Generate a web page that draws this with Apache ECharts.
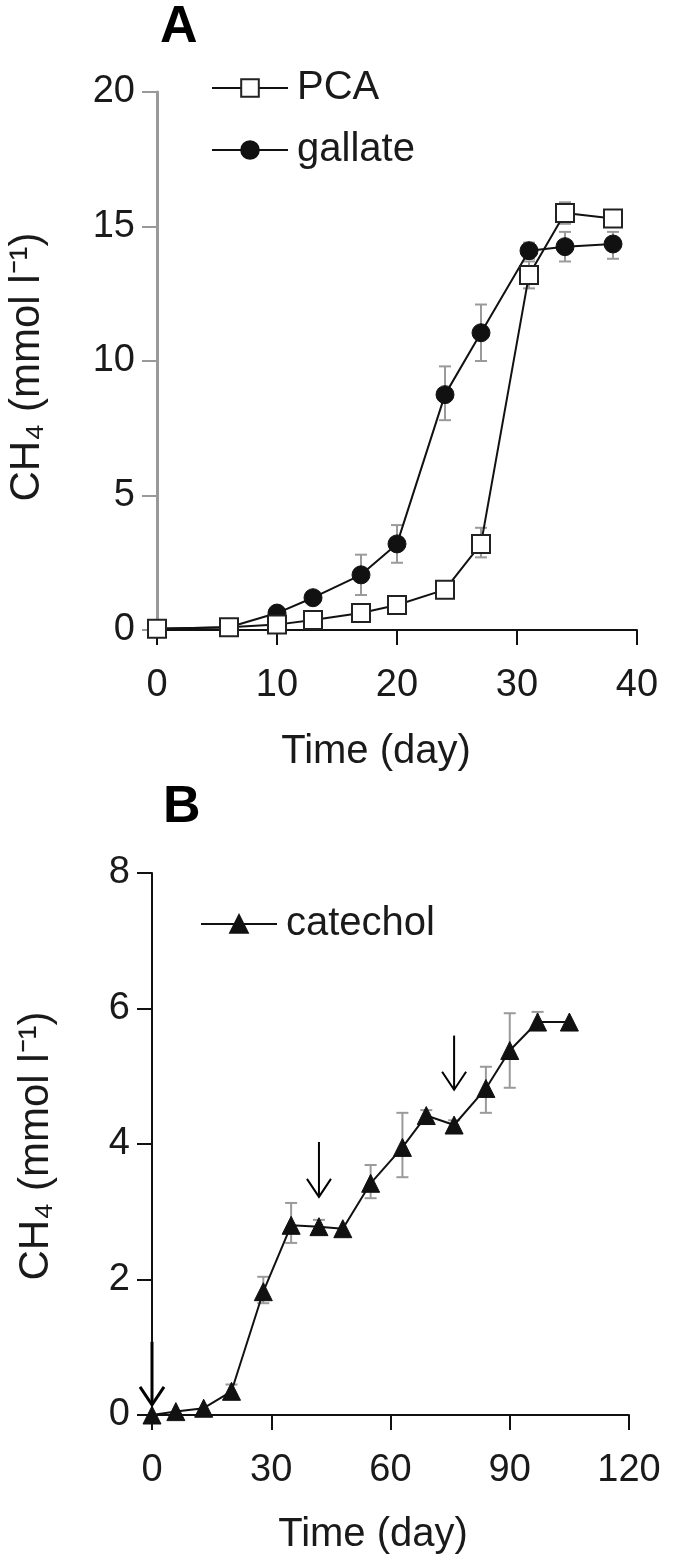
<!DOCTYPE html>
<html><head><meta charset="utf-8">
<script src="https://cdn.jsdelivr.net/npm/echarts@6/dist/echarts.min.js"></script>
<style>html,body{margin:0;padding:0;background:#fff}#c{width:675px;height:1558px}</style>
</head><body><div id="c"></div>
<script>
// Panel A data
const daysA = [0, 6, 10, 13, 17, 20, 24, 27, 31, 34, 38];
const pcaVals = [0.05, 0.1, 0.2, 0.37, 0.63, 0.93, 1.5, 3.2, 13.2, 15.5, 15.3];
const pcaLow  = [null, 0.05, null, null, null, null, null, 2.7, 12.7, 15.1, 15.0];
const pcaHigh = [null, 0.3, null, null, null, null, null, 3.8, 13.7, 15.9, 15.6];
const gallateVals = [0.05, 0.1, 0.63, 1.2, 2.05, 3.2, 8.75, 11.05, 14.1, 14.25, 14.35];
const gallateLow  = [null, null, 0.5, null, 1.3, 2.5, 7.8, 10.0, 13.8, 13.7, 13.8];
const gallateHigh = [null, null, 0.8, null, 2.8, 3.9, 9.8, 12.1, 14.4, 14.8, 14.8];
// Panel B data
const daysB = [0, 6, 13, 20, 28, 35, 42, 48, 55, 63, 69, 76, 84, 90, 97, 105];
const catecholVals = [0, 0.05, 0.1, 0.35, 1.82, 2.8, 2.78, 2.75, 3.42, 3.95, 4.42, 4.28, 4.82, 5.38, 5.8, 5.8];
const catecholLow  = [null, null, null, 0.3, 1.65, 2.54, 2.7, null, 3.2, 3.51, 4.35, 4.2, 4.46, 4.83, 5.7, null];
const catecholHigh = [null, null, null, 0.45, 2.04, 3.13, 2.88, null, 3.69, 4.46, 4.5, 4.35, 5.14, 5.93, 5.95, null];
// Arrows (substrate additions) in panel B
const arrowDays = [0, 42, 76];
const arrowTop = [1.08, 4.03, 5.6];
const arrowBottom = [0.15, 3.22, 4.8];
// Tick labels
const xTicksA = [0, 10, 20, 30, 40];
const yTicksA = [0, 5, 10, 15, 20];
const xTicksB = [0, 30, 60, 90, 120];
const yTicksB = [0, 2, 4, 6, 8];

const FONT = "'Liberation Sans', Arial, sans-serif";
const TXT = '#1a1a1a';

function pairs(xs, ys) { return xs.map((x, i) => [x, ys[i]]); }
function errData(xs, lo, hi) {
  const out = [];
  xs.forEach((x, i) => { if (lo[i] != null && hi[i] != null) out.push([x, lo[i], hi[i]]); });
  return out;
}
function errSeries(name, xi, yi, data) {
  return {
    type: 'custom', name: name, xAxisIndex: xi, yAxisIndex: yi, z: 1, silent: true,
    data: data,
    renderItem: function (params, api) {
      const x = api.value(0);
      const p1 = api.coord([x, api.value(1)]);
      const p2 = api.coord([x, api.value(2)]);
      const w = 6;
      const st = { stroke: '#9a9a9a', lineWidth: 2 };
      return { type: 'group', children: [
        { type: 'line', shape: { x1: p1[0], y1: p1[1], x2: p2[0], y2: p2[1] }, style: st },
        { type: 'line', shape: { x1: p1[0] - w, y1: p1[1], x2: p1[0] + w, y2: p1[1] }, style: st },
        { type: 'line', shape: { x1: p2[0] - w, y1: p2[1], x2: p2[0] + w, y2: p2[1] }, style: st }
      ]};
    }
  };
}

const arrowData = arrowDays.map((d, i) => [d, arrowTop[i], arrowBottom[i]]);

function axisX(gi, max, interval, ticks) {
  return {
    type: 'value', gridIndex: gi, min: 0, max: max, interval: interval,
    axisLine: { show: true, onZero: false, lineStyle: { color: '#111', width: 2 } },
    axisTick: { show: true, inside: false, length: 15, lineStyle: { color: '#111', width: 2 } },
    axisLabel: { color: TXT, fontSize: 38, fontFamily: FONT, margin: 37,
      formatter: v => (ticks.indexOf(v) >= 0 ? String(v) : '') },
    splitLine: { show: false }
  };
}
function axisY(gi, max, interval, color, width, ticks) {
  return {
    type: 'value', gridIndex: gi, min: 0, max: max, interval: interval,
    axisLine: { show: true, onZero: false, lineStyle: { color: color, width: width } },
    axisTick: { show: true, inside: false, length: 15, lineStyle: { color: color, width: 2 } },
    axisLabel: { color: TXT, fontSize: 38, fontFamily: FONT, margin: 22,
      formatter: v => (ticks.indexOf(v) >= 0 ? String(v) : '') },
    splitLine: { show: false }
  };
}

const chart = echarts.init(document.getElementById('c'));
chart.setOption({
  animation: false,
  backgroundColor: '#fff',
  grid: [
    { left: 157, right: 38, top: 92, height: 538 },
    { left: 152, right: 46, top: 873, height: 542 }
  ],
  xAxis: [axisX(0, 40, 10, xTicksA), axisX(1, 120, 30, xTicksB)],
  yAxis: [axisY(0, 20, 5, '#999', 3, yTicksA), axisY(1, 8, 2, '#111', 2, yTicksB)],
  legend: [
    {
      data: ['PCA', 'gallate'], orient: 'vertical', left: 206, top: 63,
      itemWidth: 76, itemHeight: 22, itemGap: 22,
      textStyle: { color: TXT, fontSize: 40, fontFamily: FONT, padding: [0, 0, 0, 4] }
    },
    {
      data: ['catechol'], orient: 'vertical', left: 195, top: 899,
      itemWidth: 76, itemHeight: 22,
      textStyle: { color: TXT, fontSize: 40, fontFamily: FONT, padding: [0, 0, 0, 4] }
    }
  ],
  graphic: [
    { type: 'text', left: 160, top: 2, style: { text: 'A', fontSize: 52, fontWeight: 'bold', fontFamily: FONT, fill: '#000' } },
    { type: 'text', left: 163, top: 782, style: { text: 'B', fontSize: 52, fontWeight: 'bold', fontFamily: FONT, fill: '#000' } },
    { type: 'text', x: 376, y: 752, style: { text: 'Time (day)', fontSize: 40, fontFamily: FONT, fill: TXT, align: 'center', verticalAlign: 'middle' } },
    { type: 'text', x: 373, y: 1535, style: { text: 'Time (day)', fontSize: 40, fontFamily: FONT, fill: TXT, align: 'center', verticalAlign: 'middle' } },
    { type: 'text', x: 27, y: 367, rotation: Math.PI / 2, style: { text: 'CH\u2084 (mmol l\u207B\u00B9)', fontSize: 42, fontFamily: FONT, fill: TXT, align: 'center', verticalAlign: 'middle' } },
    { type: 'text', x: 36, y: 1146, rotation: Math.PI / 2, style: { text: 'CH\u2084 (mmol l\u207B\u00B9)', fontSize: 42, fontFamily: FONT, fill: TXT, align: 'center', verticalAlign: 'middle' } }
  ],
  series: [
    errSeries('errPCA', 0, 0, errData(daysA, pcaLow, pcaHigh)),
    errSeries('errGallate', 0, 0, errData(daysA, gallateLow, gallateHigh)),
    errSeries('errCatechol', 1, 1, errData(daysB, catecholLow, catecholHigh)),
    {
      name: 'gallate', type: 'line', xAxisIndex: 0, yAxisIndex: 0, z: 3,
      data: pairs(daysA, gallateVals), symbol: 'circle', symbolSize: 18,
      lineStyle: { color: '#111', width: 2 },
      itemStyle: { color: '#111', borderColor: '#111', borderWidth: 1 }
    },
    {
      name: 'PCA', type: 'line', xAxisIndex: 0, yAxisIndex: 0, z: 4,
      data: pairs(daysA, pcaVals), symbol: 'rect', symbolSize: 18,
      lineStyle: { color: '#111', width: 2 },
      itemStyle: { color: '#fff', borderColor: '#222', borderWidth: 2 }
    },
    {
      name: 'catechol', type: 'line', xAxisIndex: 1, yAxisIndex: 1, z: 3,
      data: pairs(daysB, catecholVals), symbol: 'triangle', symbolSize: [18, 18],
      lineStyle: { color: '#111', width: 2 },
      itemStyle: { color: '#111', borderColor: '#111', borderWidth: 1 }
    },
    {
      type: 'custom', name: 'arrows', xAxisIndex: 1, yAxisIndex: 1, z: 5, silent: true,
      data: arrowData,
      renderItem: function (params, api) {
        const x = api.value(0);
        const t = api.coord([x, api.value(1)]);
        const b = api.coord([x, api.value(2)]);
        const st = { stroke: '#000', lineWidth: params.dataIndex === 0 ? 3 : 2, fill: null };
        return { type: 'group', children: [
          { type: 'line', shape: { x1: t[0], y1: t[1], x2: b[0], y2: b[1] }, style: st },
          { type: 'polyline', shape: { points: [[b[0] - 12, b[1] - 18], [b[0], b[1]], [b[0] + 12, b[1] - 18]] }, style: st }
        ]};
      }
    }
  ]
});
</script>
</body></html>
